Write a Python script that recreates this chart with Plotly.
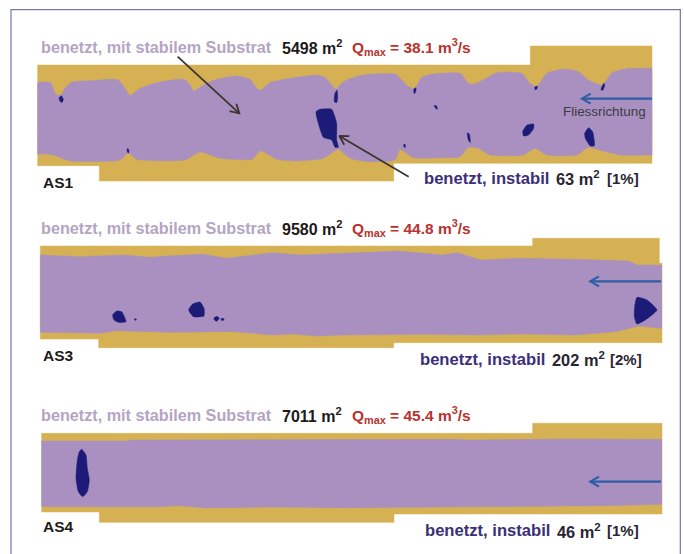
import math
import plotly.graph_objects as go

# Each reach has its own vertical offset.
OFFSET_AS1, OFFSET_AS3, OFFSET_AS4 = 0, 600, 1140

TAN, PURPLE, NAVY = "#d5b153", "#a990c0", "#1c1c78"
PALE, RED, INK, DEEP, BLUE = "#b3a5c3", "#b8322e", "#1d1a1a", "#3b2f78", "#2f5ea6"

reach_names = ["AS1", "AS3", "AS4"]
stable_area = ["5498 m<sup>2</sup>", "9580 m<sup>2</sup>", "7011 m<sup>2</sup>"]
q_max = ["38.1", "44.8", "45.4"]
unstable_area = ["63 m<sup>2</sup>", "202 m<sup>2</sup>", "46 m<sup>2</sup>"]
unstable_share = ["[1%]", "[2%]", "[1%]"]

as1_bank = [(113,195),(1591,195),(1591,138),(1956,138),(1956,490),(1181,490),(1181,543),(298,543),(298,497),(113,497)]
as1_water = [(113,248),(152,248),(165,280),(180,288),(195,265),(215,246),(280,242),(330,238),(355,240),(375,265),(390,287),
             (420,265),(470,248),(550,237),(568,252),(582,273),(610,255),(650,238),(710,228),(750,238),(770,265),(782,270),
             (810,248),(870,235),(950,225),(975,232),(995,255),(1008,268),(1025,250),(1045,238),(1090,225),(1185,222),
             (1210,245),(1230,263),(1245,265),(1265,232),(1300,222),(1380,220),(1405,250),(1420,253),(1450,240),(1490,218),
             (1565,220),(1590,250),(1610,260),(1640,220),(1690,207),(1735,215),(1765,240),(1805,255),(1820,240),(1835,218),
             (1880,206),(1940,205),(1956,205),(1956,208),(1956,462),
             (1956,465),(1940,465),(1860,465),(1790,448),(1765,442),(1730,465),(1640,465),(1605,445),(1570,465),(1470,465),(1435,445),
             (1405,442),(1380,470),(1320,473),(1240,473),(1200,448),(1185,480),(1105,485),(1050,475),(1015,448),(970,475),
             (890,483),(830,478),(782,452),(755,478),(660,475),(600,456),(555,480),(410,478),(385,458),(360,480),(210,483),
             (160,465),(125,462),(113,462),(113,459),(113,251)]
as1_patches = [
    [(178,292),(184,287),(190,298),(186,308),(179,302)],
    [(1005,280),(1011,270),(1013,290),(1010,308),(1003,305)],
    [(948,335),(960,328),(995,328),(1010,370),(1010,420),(1015,442),(1005,442),(995,420),(970,412),(955,370)],
    [(383,445),(387,452),(385,460),(381,452)],
    [(1241,268),(1248,263),(1247,275),(1243,281)],
    [(1303,316),(1310,318),(1312,328),(1306,324)],
    [(1402,398),(1408,402),(1411,428),(1405,420)],
    [(1211,434),(1215,432),(1216,442),(1212,441)],
    [(1604,262),(1612,258),(1611,266),(1606,269)],
    [(1804,265),(1812,250),(1814,256),(1809,270),(1804,271)],
    [(1568,395),(1581,375),(1601,372),(1601,385),(1586,405),(1571,408)],
    [(1754,400),(1766,383),(1778,395),(1783,437),(1771,438),(1756,415)],
]

as3_bank = [(121,138),(1598,138),(1598,115),(1978,115),(1978,190),(1986,190),(1986,428),(1181,428),(1181,443),(296,443),(296,417),(121,417)]
as3_water = [(121,165),(240,170),(370,165),(450,172),(500,168),(610,163),(680,175),(740,168),(815,158),(900,165),(1026,160),
             (1196,153),(1326,165),(1371,158),(1441,180),(1556,175),(1726,178),(1886,183),(1911,195),(1985,195),
             (1985,385),(1916,378),(1846,395),(1726,405),(1566,402),(1426,405),(1276,403),(1026,405),(950,408),(880,402),
             (820,405),(700,395),(500,397),(350,392),(300,400),(180,397),(121,397)]
as3_patches = [
    [(338,345),(350,333),(365,335),(378,365),(355,367),(342,360)],
    [(566,330),(578,312),(600,306),(612,325),(612,348),(580,350)],
    [(404,356),(409,357),(408,361),(404,360)],
    [(642,354),(650,349),(658,355),(650,364),(643,360)],
    [(663,356),(672,356),(671,361),(664,361)],
    [(1904,320),(1911,292),(1941,300),(1971,330),(1936,360),(1911,372),(1903,350)],
]

as4_bank = [(125,160),(1598,160),(1598,130),(1986,130),(1986,402),(1182,402),(1182,427),(298,427),(298,396),(125,396)]
as4_water = [(125,183),(380,183),(400,180),(1026,178),(1356,178),(1406,180),(1696,177),(1985,178),
             (1985,373),(1826,377),(1526,380),(1226,383),(1026,383),(800,381),(620,384),(540,377),(480,380),(130,380),(125,378)]
as4_patches = [
    [(245,208),(258,225),(262,265),(268,300),(262,335),(248,350),(235,335),(228,295),(232,240),(238,215)],
]

reaches = [
    (OFFSET_AS1, as1_bank, as1_water, as1_patches, True),
    (OFFSET_AS3, as3_bank, as3_water, as3_patches, False),
    (OFFSET_AS4, as4_bank, as4_water, as4_patches, False),
]

# (from, to, colour, width)
arrows = [
    ((533,170), (718,340), "#3a3530", 1.8),
    ((1226,530), (1018,408), "#3a3530", 1.8),
    ((1956,296), (1746,296), BLUE, 2.2),
    ((1983,844), (1771,844), BLUE, 2.2),
    ((1983,1445), (1771,1445), BLUE, 2.2),
]

fig = go.Figure()


def poly(points, offset, colour, smooth):
    line = dict(color=colour, width=0.5)
    if smooth:
        line.update(shape="spline", smoothing=0.5)
    fig.add_trace(go.Scatter(
        x=[p[0] for p in points] + [points[0][0]], y=[p[1] + offset for p in points] + [points[0][1] + offset],
        mode="lines", fill="toself", fillcolor=colour,
        line=line, hoverinfo="skip", showlegend=False))


for offset, bank, water, patches, wavy in reaches:
    poly(bank, offset, TAN, False)
    poly(water, offset, PURPLE, wavy)
    for patch in patches:
        poly(patch, offset, NAVY, True)

# Picture frame, open at the bottom edge of the page
fig.add_trace(go.Scatter(x=[33, 33, 2041, 2041], y=[1700, 29, 29, 1700], mode="lines",
                         line=dict(color="#6f78a8", width=1.2), hoverinfo="skip", showlegend=False))

HEAD, SPREAD = 30, math.radians(30)
for start, tip, colour, width in arrows:
    back = math.atan2(start[1] - tip[1], start[0] - tip[0])
    barbs = [(tip[0] + HEAD * math.cos(back + s), tip[1] + HEAD * math.sin(back + s)) for s in (SPREAD, -SPREAD)]
    xs = [start[0], tip[0], None, barbs[0][0], tip[0], barbs[1][0]]
    ys = [start[1], tip[1], None, barbs[0][1], tip[1], barbs[1][1]]
    fig.add_trace(go.Scatter(x=xs, y=ys, mode="lines", line=dict(color=colour, width=width),
                             hoverinfo="skip", showlegend=False))


def label(x, y, text, colour, size, weight="bold"):
    fig.add_annotation(x=x, y=y, xref="x", yref="y", xanchor="left", yanchor="middle", showarrow=False,
                       text=text, borderpad=0, borderwidth=0,
                       font=dict(family="Liberation Sans, Arial, sans-serif", size=size, color=colour, weight=weight))


head_y = [141, 683, 1245]
foot_y = [535, 1078, 1592]
name_y = [547, 1065, 1580]
foot_x = [[1272, 1668, 1822], [1260, 1656, 1830], [1275, 1671, 1821]]

for i, name in enumerate(reach_names):
    label(122, head_y[i], "benetzt, mit stabilem Substrat", PALE, 16.2)
    label(845, head_y[i], stable_area[i], INK, 16)
    label(1056, head_y[i], f"Q<sub>max</sub> = {q_max[i]} m<sup>3</sup>/s", RED, 15.5)
    label(128, name_y[i], name, INK, 15.5)
    label(foot_x[i][0], foot_y[i], "benetzt, instabil", DEEP, 16.6)
    label(foot_x[i][1], foot_y[i], unstable_area[i], "#2a2630", 16.4)
    label(foot_x[i][2], foot_y[i], unstable_share[i], "#2a2630", 15)

label(1690, 335, "Fliessrichtung", "#3c3c44", 13.4, weight="normal")

fig.update_layout(
    width=684, height=554, margin=dict(l=0, r=0, t=0, b=0),
    paper_bgcolor="white", plot_bgcolor="white", showlegend=False,
    xaxis=dict(range=[0, 2052], visible=False, fixedrange=True),
    yaxis=dict(range=[1662, 0], visible=False, fixedrange=True),
)
fig.write_html("out.html", config={"displayModeBar": False},
               post_script="document.body.style.margin='0';")
